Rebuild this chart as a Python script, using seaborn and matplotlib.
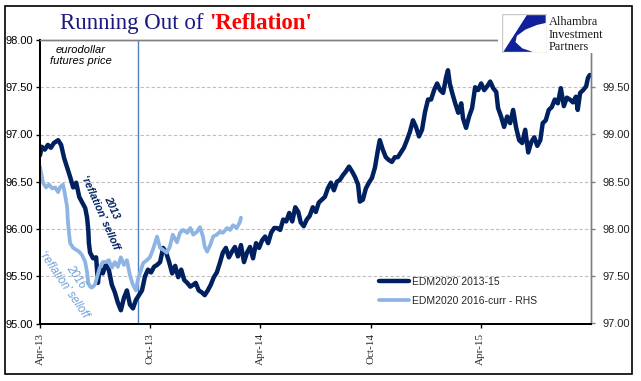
import pandas as pd
import matplotlib
matplotlib.use('Agg')
import matplotlib.pyplot as plt
import matplotlib.dates as mdates
from matplotlib.ticker import FormatStrFormatter
from matplotlib.patches import Rectangle, Polygon
import seaborn as sns

# ================================
# DATOS
# ================================
start = pd.Timestamp('2013-04-01')
end = pd.Timestamp('2015-10-01')

# EDM2020 2013-15, dias desde Apr-13 y precio (eje izquierdo)
days_1315 = [0, 3, 8, 13, 18, 23, 30, 35, 40, 45,
             50, 55, 60, 65, 70, 75, 78, 80, 81, 83,
             88, 93, 96, 99, 104, 109, 114, 119, 124, 129,
             134, 139, 144, 149, 154, 159, 164, 169, 174, 179,
             184, 189, 194, 199, 204, 209, 214, 219, 224, 229,
             234, 239, 244, 249, 254, 258, 263, 268, 273, 278,
             283, 288, 293, 298, 303, 308, 313, 318, 323, 328,
             333, 338, 343, 348, 353, 358, 363, 368, 373, 378,
             383, 388, 393, 398, 403, 408, 413, 418, 423, 428,
             432, 437, 442, 447, 452, 457, 462, 467, 472, 477,
             482, 487, 492, 497, 502, 507, 512, 517, 522, 527,
             530, 535, 540, 545, 550, 555, 560, 563, 568, 573,
             578, 583, 588, 593, 598, 603, 608, 613, 618, 623,
             628, 633, 638, 643, 648, 653, 658, 663, 668, 673,
             676, 679, 683, 688, 693, 698, 701, 706, 711, 716,
             721, 726, 731, 736, 741, 746, 751, 756, 759, 764,
             769, 774, 779, 784, 789, 794, 799, 804, 809, 814,
             819, 824, 829, 833, 838, 843, 848, 853, 858, 863,
             868, 873, 878, 883, 888, 891, 895, 900, 905, 908,
             911]
edm_1315 = [96.78, 96.87, 96.84, 96.89, 96.86, 96.91, 96.94, 96.89, 96.75, 96.65,
            96.55, 96.44, 96.49, 96.34, 96.28, 96.22, 96.12, 95.99, 95.85, 95.75,
            95.69, 95.70, 95.43, 95.59, 95.53, 95.62, 95.57, 95.41, 95.33, 95.22,
            95.14, 95.27, 95.35, 95.20, 95.16, 95.25, 95.30, 95.35, 95.50, 95.57,
            95.54, 95.60, 95.62, 95.65, 95.80, 95.75, 95.65, 95.53, 95.61, 95.49,
            95.57, 95.46, 95.43, 95.39, 95.41, 95.43, 95.35, 95.33, 95.30, 95.35,
            95.41, 95.49, 95.54, 95.64, 95.75, 95.80, 95.70, 95.76, 95.81, 95.71,
            95.83, 95.65, 95.75, 95.81, 95.69, 95.85, 95.80, 95.88, 95.92, 95.85,
            95.96, 96.01, 96.01, 95.99, 96.10, 96.08, 96.17, 96.08, 96.23, 96.18,
            96.07, 96.03, 96.10, 96.14, 96.23, 96.18, 96.28, 96.31, 96.34, 96.43,
            96.49, 96.41, 96.50, 96.52, 96.57, 96.61, 96.66, 96.61, 96.55, 96.47,
            96.29, 96.31, 96.43, 96.49, 96.54, 96.65, 96.84, 96.94, 96.84, 96.76,
            96.73, 96.71, 96.76, 96.76, 96.81, 96.86, 96.94, 97.03, 97.15, 97.08,
            96.98, 97.05, 97.24, 97.37, 97.37, 97.47, 97.54, 97.47, 97.44, 97.61,
            97.68, 97.54, 97.44, 97.33, 97.23, 97.33, 97.17, 97.07, 97.19, 97.28,
            97.50, 97.47, 97.54, 97.47, 97.51, 97.56, 97.49, 97.45, 97.28, 97.19,
            97.08, 97.19, 97.12, 97.26, 97.07, 96.94, 96.91, 97.05, 96.81, 96.92,
            96.97, 96.88, 96.94, 97.12, 97.15, 97.26, 97.29, 97.37, 97.33, 97.49,
            97.30, 97.39, 97.37, 97.34, 97.40, 97.26, 97.44, 97.47, 97.51, 97.60,
            97.63]

# EDM2020 2016-curr, alineado desde Apr-16 (eje derecho - RHS)
days_16 = [0, 5, 10, 15, 20, 25, 30, 33, 38, 41,
           45, 46, 48, 50, 55, 60, 65, 70, 75, 78,
           80, 83, 86, 91, 94, 99, 104, 109, 114, 119,
           124, 129, 134, 139, 144, 149, 154, 159, 162, 166,
           171, 177, 182, 187, 194, 199, 204, 210, 215, 220,
           227, 232, 237, 244, 249, 254, 260, 265, 270, 273,
           277, 282, 287, 293, 298, 303, 310, 315, 320, 326,
           331, 333]
edm_16 = [98.66, 98.49, 98.44, 98.47, 98.43, 98.44, 98.39, 98.44, 98.47, 98.38,
          98.23, 98.10, 97.96, 97.85, 97.80, 97.78, 97.76, 97.72, 97.65, 97.54,
          97.43, 97.39, 97.38, 97.41, 97.48, 97.59, 97.65, 97.65, 97.67, 97.59,
          97.65, 97.60, 97.70, 97.62, 97.67, 97.51, 97.41, 97.35, 97.46, 97.54,
          97.64, 97.67, 97.70, 97.78, 97.92, 97.80, 97.78, 97.75, 97.81, 97.94,
          97.86, 97.96, 97.99, 97.96, 98.01, 97.94, 97.97, 98.02, 97.92, 97.81,
          97.76, 97.83, 97.92, 97.94, 97.97, 97.96, 98.01, 97.99, 98.04, 98.01,
          98.07, 98.12]

x_ticks = ['2013-04-01', '2013-10-01', '2014-04-01', '2014-10-01', '2015-04-01']
left_ticks = [95.0, 95.5, 96.0, 96.5, 97.0, 97.5, 98.0]
right_ticks = [97.0, 97.5, 98.0, 98.5, 99.0, 99.5]
marker_date = '2013-09-10'
labels = ['EDM2020 2013-15', 'EDM2020 2016-curr - RHS']

df1 = pd.DataFrame({'Fecha': start + pd.to_timedelta(days_1315, unit='D'), 'EDM': edm_1315})
df2 = pd.DataFrame({'Fecha': start + pd.to_timedelta(days_16, unit='D'), 'EDM': edm_16})

# ================================
# ESTILO
# ================================
sns.set_theme(style='white')
plt.rcParams['font.family'] = ['Liberation Sans', 'DejaVu Sans']

dark = '#002060'
light = '#8DB4E2'
navy = '#1A1A80'
gray = '#808080'

W, H = 641, 381
def fx(px):
    return px / W
def fy(py):
    return 1 - py / H

fig = plt.figure(figsize=(W / 100, H / 100), dpi=100)
ax = fig.add_axes([fx(40), fy(323.5), 551 / W, 283.5 / H])
ax2 = ax.twinx()

sns.lineplot(data=df1, x='Fecha', y='EDM', ax=ax, color=dark, lw=3.2, legend=False)
sns.lineplot(data=df2, x='Fecha', y='EDM', ax=ax2, color=light, lw=2.7, legend=False)
h1 = ax.get_lines()[0]
h2 = ax2.get_lines()[0]

ax.axvline(pd.Timestamp(marker_date), color='#4F81BD', lw=1, zorder=1)

ax.set_xlim(start, end)
ax.set_ylim(95, 98)
ax2.set_ylim(97, 100)
ax.set_yticks(left_ticks)
ax2.set_yticks(right_ticks)
ax.yaxis.set_major_formatter(FormatStrFormatter('%.2f'))
ax2.yaxis.set_major_formatter(FormatStrFormatter('%.2f'))
ax.set_xticks(pd.to_datetime(x_ticks))
ax.xaxis.set_major_formatter(mdates.DateFormatter('%b-%y'))
for a in (ax, ax2):
    a.set_xlabel('')
    a.set_ylabel('')

ax.grid(axis='y', color='#BFBFBF', linestyle=(0, (3, 2)), lw=0.8)
ax.grid(axis='x', visible=False)

for a in (ax, ax2):
    a.spines['left'].set_color('black')
    a.spines['left'].set_linewidth(1.4)
    a.spines['bottom'].set_color('black')
    a.spines['bottom'].set_linewidth(1.4)
    a.spines['top'].set_color(gray)
    a.spines['top'].set_linewidth(1)
    a.spines['right'].set_color(gray)
    a.spines['right'].set_linewidth(1)

ax.tick_params(axis='y', left=True, direction='out', length=3, width=1,
               color='black', pad=2, labelsize=8, labelcolor='black')
ax2.tick_params(axis='y', right=True, direction='out', length=3, width=1,
                color=gray, pad=5, labelsize=8, labelcolor='#222222')
ax.tick_params(axis='x', bottom=True, direction='out', length=3, width=1,
               color='black', pad=4, labelrotation=90)
for lab in ax.get_xticklabels():
    lab.set_family('Liberation Serif')
    lab.set_fontsize(8)

# leyenda
fig.legend(handles=[h1, h2], labels=labels, loc='upper left',
           bbox_to_anchor=(fx(379), fy(277)), frameon=False, fontsize=7.5,
           handlelength=2.9, handletextpad=0.25, labelspacing=0.85,
           borderpad=0, borderaxespad=0)

# ================================
# ANOTACIONES
# ================================
fig.text(fx(81), fy(55.5), 'eurodollar\nfutures price', ha='center', va='center',
         fontsize=8, fontstyle='italic', color='black', linespacing=1.15)
fig.text(fx(106), fy(210), '2013\n\u2018reflation\u2019 selloff', ha='center', va='center',
         rotation=-66, rotation_mode='anchor', fontsize=7.6, fontstyle='italic',
         fontweight='bold', color=dark, linespacing=1.35)
fig.text(fx(70), fy(281), '2016\n\u2018reflation\u2019 selloff', ha='center', va='center',
         rotation=-55.5, rotation_mode='anchor', fontsize=8.3, fontstyle='italic',
         color='#6F9FDB', linespacing=1.25)

# titulo
t1 = fig.text(fx(60), fy(29), 'Running Out of ', family='Liberation Serif',
              fontsize=16.5, color=navy, va='baseline')
renderer = fig.canvas.get_renderer()
bb = t1.get_window_extent(renderer=renderer)
fig.text(bb.x1 / fig.bbox.width, fy(29), "'Reflation'", family='Liberation Serif',
         fontsize=16.5, fontweight='bold', color='#FF0000', va='baseline')

# logo
fig.patches.append(Rectangle((fx(498), fy(53)), 108 / W, 43 / H, transform=fig.transFigure,
                             facecolor='white', edgecolor='none', zorder=5))
logo = fig.add_axes([fx(502), fy(53), 45 / W, 39 / H], zorder=10)
logo.set_xlim(0, 1)
logo.set_ylim(0, 1)
logo.axis('off')
logo.add_patch(Rectangle((0, 0), 1, 1, facecolor='white', edgecolor='#C8C8C8', lw=1))
logo.add_patch(Polygon([(0.97, 0.97), (0.55, 0.97), (0.03, 0.03), (0.68, 0.03),
                        (0.45, 0.12), (0.30, 0.28), (0.33, 0.44), (0.52, 0.60),
                        (0.78, 0.72), (0.97, 0.77)], closed=True,
                       facecolor='#10209A', edgecolor='none'))
for txt, py in [('Alhambra', 25), ('Investment', 37.5), ('Partners', 50)]:
    fig.text(fx(549), fy(py), txt, family='Liberation Serif', fontsize=8.8,
             color='#1A1A1A', va='baseline', zorder=11)

# marco
fig.patches.append(Rectangle((fx(5), fy(374)), 627 / W, 368 / H, transform=fig.transFigure,
                             fill=False, edgecolor='black', lw=1.2, zorder=20))

fig.savefig('out.png', dpi=100)
